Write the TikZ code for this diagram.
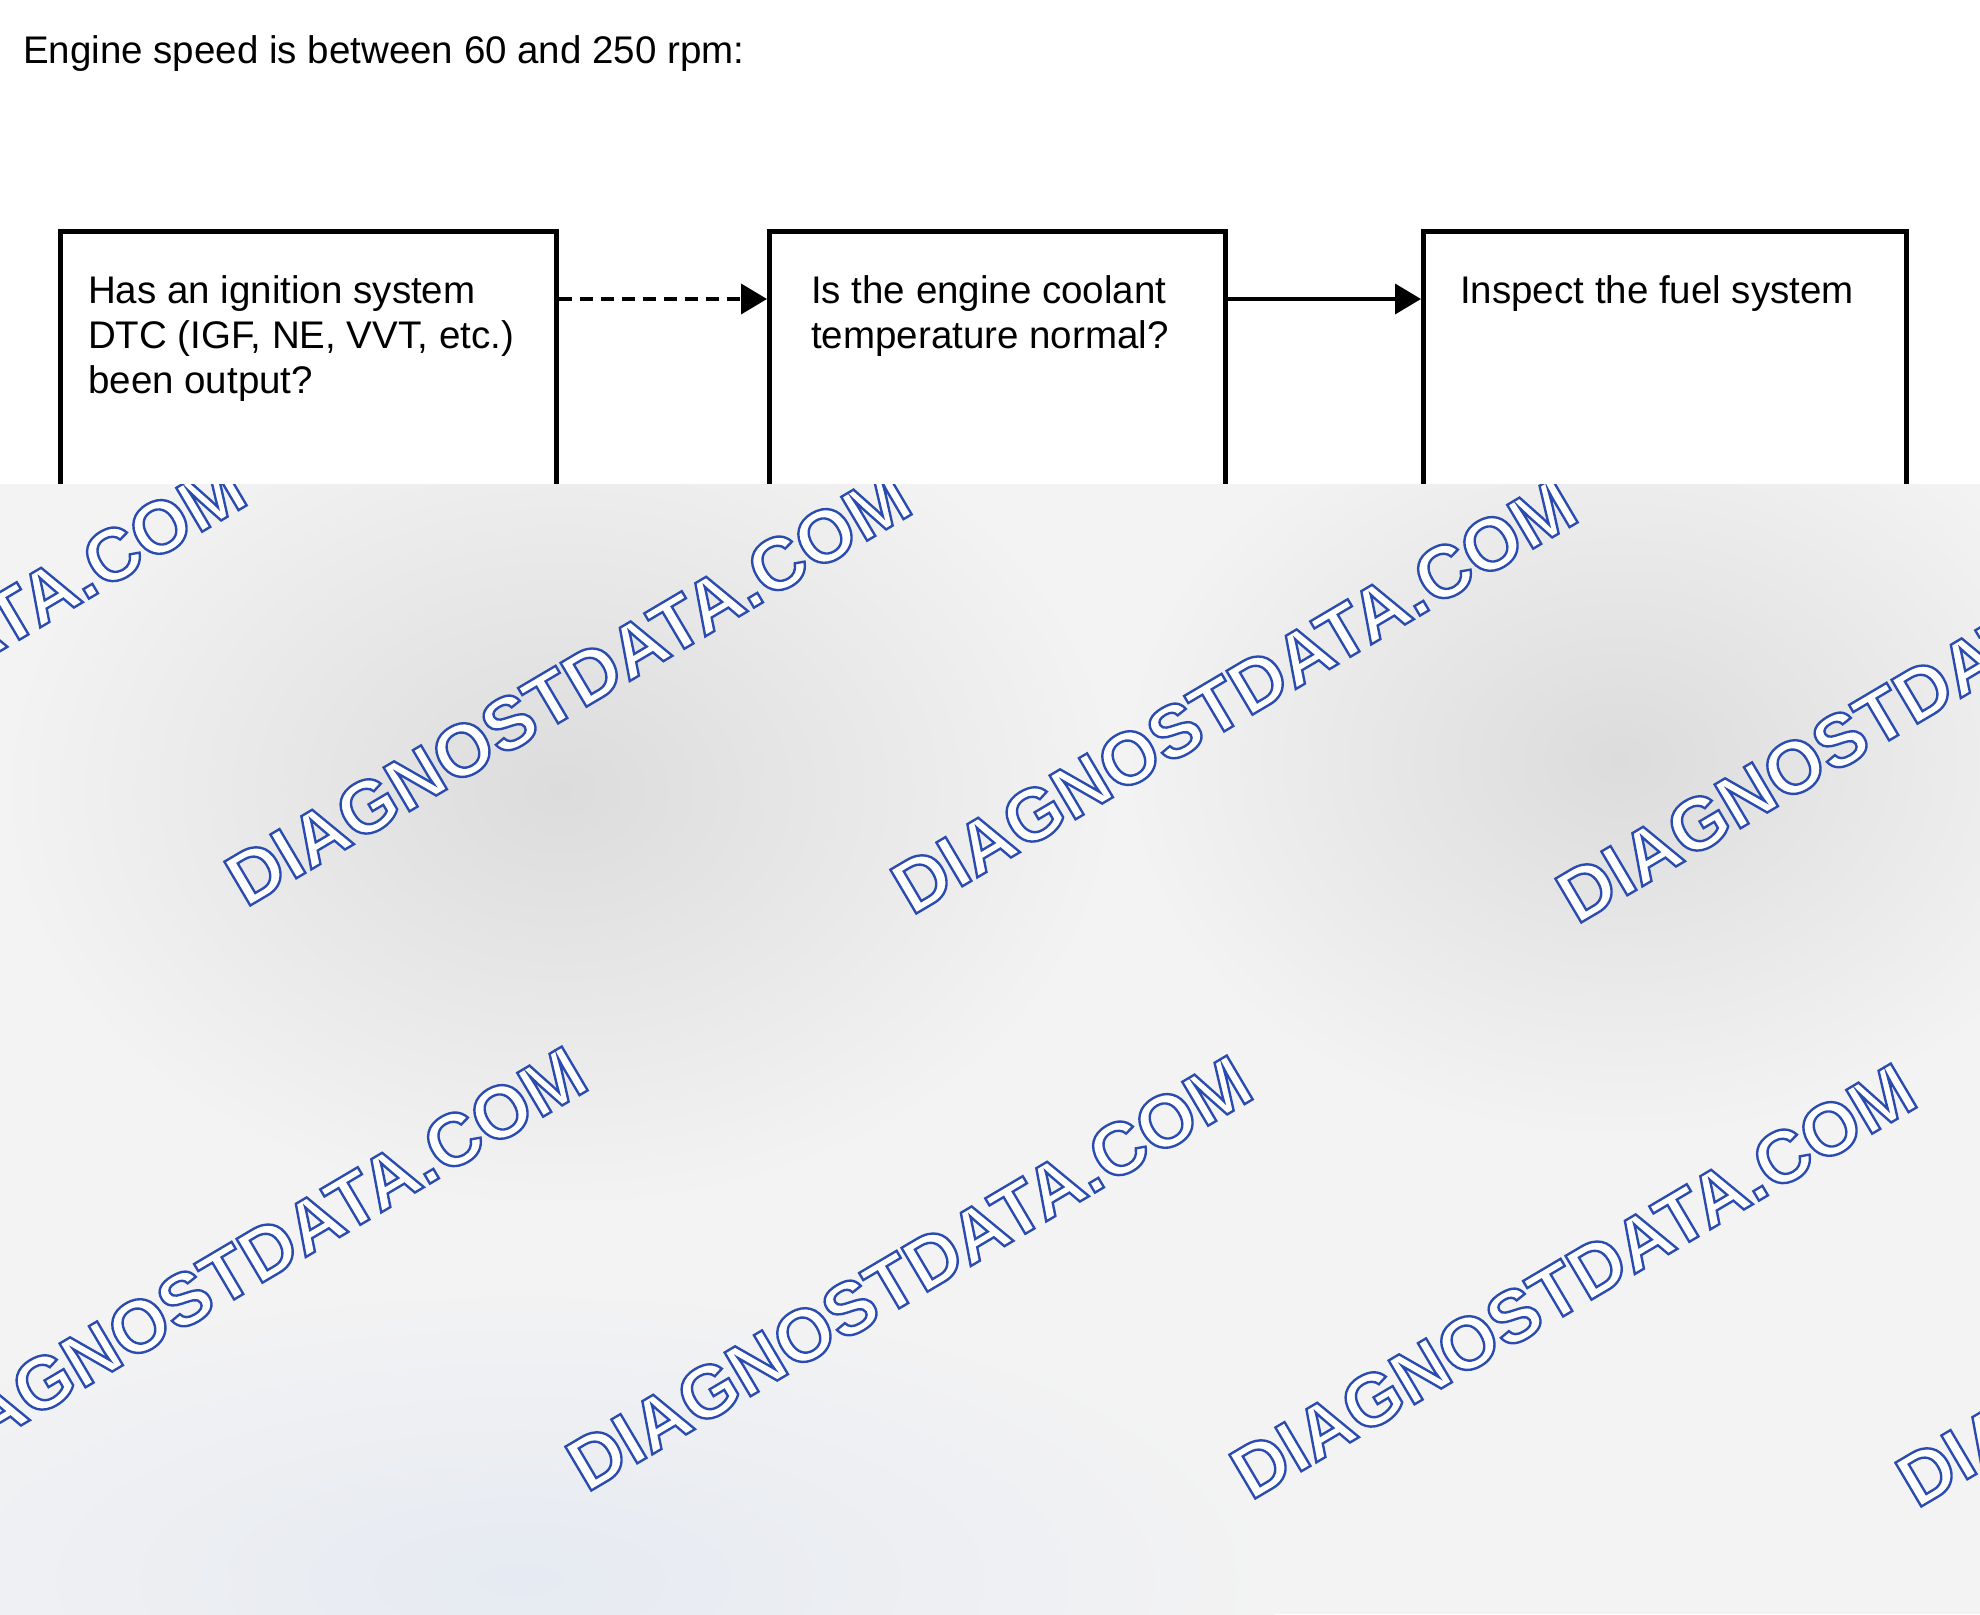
\documentclass[tikz,border=0pt]{standalone}
\usepackage{fontspec}
\setmainfont{Liberation Sans}
\newfontfamily\wmfont[FakeBold=3.2]{Liberation Sans Bold}
\usepackage{xcolor}
\usepackage{tikz}
\usetikzlibrary{arrows.meta, positioning}

\definecolor{fogc}{HTML}{F3F3F3}
\definecolor{spotc}{HTML}{DCDCDC}
\definecolor{mistc}{HTML}{E6EAF2}
% white letters, blue outline
\newcommand{\wmtext}{\special{pdf:bcolor [1 1 1] [0.165 0.294 0.686]}\wmfont DIAGNOSTDATA.COM\special{pdf:ecolor}}

\begin{document}
\begin{tikzpicture}[x=1pt, y=-1pt,
  stepbox/.style={draw, line width=4.5pt, anchor=north west, minimum width=#1, minimum height=300pt},
  steptext/.style={inner sep=0pt, align=left, font=\fontsize{38.5}{45}\selectfont},
  flow/.style={line width=3.8pt, -{Triangle[length=26pt, width=30pt]}},
  wmark/.style={rotate=30.6, inner sep=0pt, font=\fontsize{74}{80}\selectfont}]
  \useasboundingbox (0,0) rectangle (1980,1614);
  \fill[white] (0,0) rectangle (1980,1614);

  \node[steptext, anchor=base west] (title) at (23,63) {Engine speed is between 60 and 250 rpm:};

  \node[stepbox=496pt] (b1) at (58,229) {};
  \node[stepbox=456pt] (b2) at (767,229) {};
  \node[stepbox=483pt] (b3) at (1421,229) {};
  \node[steptext, below right=46pt and 30pt of b1.north west] (q1) {Has an ignition system\\DTC (IGF, NE, VVT, etc.)\\been output?};
  \node[steptext, below right=46pt and 44pt of b2.north west] (q2) {Is the engine coolant\\temperature normal?};
  \node[steptext, below right=46pt and 39pt of b3.north west] (q3) {Inspect the fuel system};

  \draw[flow, dash pattern=on 13pt off 8pt] ([yshift=-70pt]b1.north east) -- ([yshift=-70pt]b2.north west);
  \draw[flow] ([yshift=-70pt]b2.north east) -- ([yshift=-70pt]b3.north west);

  % watermark layer over the lower part
  \begin{scope}
    \clip (0,484) rectangle (1980,1614);
    \fill[fogc] (0,484) rectangle (1980,1614);
    \shade[inner color=spotc, outer color=fogc] (560,790) ellipse (560 and 420);
    \shade[inner color=spotc, outer color=fogc] (1620,760) ellipse (500 and 380);
    \shade[inner color=mistc, outer color=fogc] (520,1580) ellipse (760 and 300);
    \node[wmark] (w1) at (-97,679) {\wmtext};
    \node[wmark] (w2) at (568,688) {\wmtext};
    \node[wmark] (w3) at (1234,696) {\wmtext};
    \node[wmark] (w4) at (1899,705) {\wmtext};
    \node[wmark] (w5) at (244,1264) {\wmtext};
    \node[wmark] (w6) at (909,1273) {\wmtext};
    \node[wmark] (w7) at (1573,1281) {\wmtext};
    \node[wmark] (w8) at (2239,1289) {\wmtext};
  \end{scope}
\end{tikzpicture}
\end{document}
